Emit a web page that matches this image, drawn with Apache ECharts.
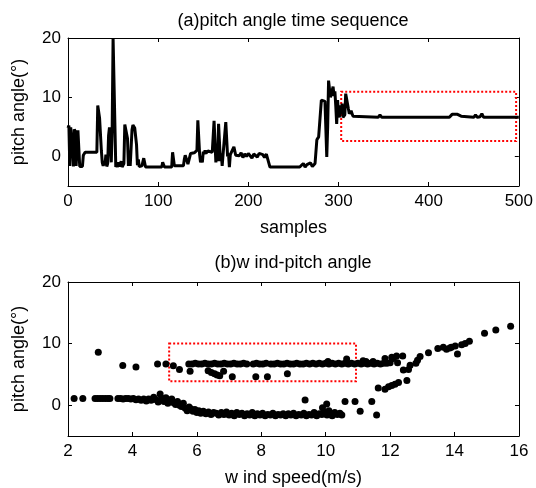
<!DOCTYPE html>
<html>
<head>
<meta charset="utf-8">
<script src="https://cdn.jsdelivr.net/npm/echarts@6/dist/echarts.min.js"></script>
<style>
html,body{margin:0;padding:0;background:#fff;}
#main{width:536px;height:488px;}
</style>
</head>
<body>
<div id="main"></div>
<script>
// (a) pitch angle per sample: [sample, pitch]
var pitchSeq = [
  [0,4.8],[1,5.2],[2,-1.6],[3,4.9],[4,5.1],[5,1.5],[6,-1.7],[7,4.6],[8,4.2],[9,-1.6],[10,-1.8],
  [11,4.4],[12,4.3],[13,-1.7],[14,-1.8],[15,-1.6],[16,-1.7],[17,0.2],[19,0.7],[32,0.7],[33,8.6],
  [34,8.4],[35,6.5],[36,6.4],[37,1.0],[38,-1.0],[39,-1.6],[40,-0.8],[41,-1.5],[42,0.3],[43,-1.7],
  [44,-1.2],[45,3.5],[46,4.9],[47,5.0],[48,-1.0],[49,4.8],[50,20],[51,20],[52,20],[53,-1.8],
  [54,-1.4],[55,-1.8],[56,-1.0],[57,-1.7],[58,-1.5],[59,-0.8],[60,-1.8],[61,-1.6],[62,-1.2],
  [63,5.4],[64,5.6],[65,5.5],[66,3.0],[67,-1.6],[68,1.0],[69,-1.6],[70,-1.4],[71,4.5],[72,5.3],
  [73,5.2],[74,4.8],[75,5.0],[76,2.0],[77,-1.5],[78,-0.5],[79,-1.7],[80,-1.5],[81,-1.8],[82,-1.6],
  [83,-1.7],[84,-0.3],[85,-0.3],[86,-1.8],[104,-1.8],[105,-1.0],[106,-1.0],[107,-1.8],[115,-1.8],
  [116,0.7],[117,0.7],[118,-1.6],[128,-1.6],[129,-0.5],[130,0.2],[131,0.0],[132,0.2],[133,-1.3],
  [135,-1.0],[136,0.5],[138,0.7],[140,0.6],[142,0.9],[143,1.0],[144,6.1],[145,6.0],[146,0.3],
  [147,-1.0],[148,-0.5],[149,-1.0],[150,0.8],[151,0.4],[152,1.0],[153,0.5],[155,0.9],[157,0.6],
  [160,0.7],[162,6.0],[163,6.0],[164,-1.0],[165,0.5],[166,-0.8],[167,5.5],[168,5.3],[169,-0.8],
  [170,0.5],[171,-1.6],[172,0.4],[175,5.8],[176,5.8],[177,0.0],[178,0.5],[179,-1.8],[180,0.3],
  [182,0.6],[184,1.6],[185,1.4],[186,0.2],[188,0.5],[190,0.1],[192,0.6],[194,-0.2],[196,0.4],
  [198,0.0],[200,0.5],[202,0.2],[204,-0.3],[206,0.4],[208,0.3],[210,-0.1],[212,0.5],[214,0.2],
  [216,0.3],[218,-0.2],[220,0.4],[222,0.3],[224,-1.8],[257,-1.8],[259,-1.5],[261,-1.2],[263,-1.8],
  [265,-1.4],[267,-1.6],[269,-1.1],[271,-1.7],[273,-1.5],[274,-1.2],[276,2.8],[278,3.3],[280,3.6],
  [281,9.5],[283,9.2],[285,9.3],[286,9.0],[287,-0.1],[288,5.0],[289,12.8],[290,12.5],[291,10.0],
  [292,10.5],[294,11.8],[295,10.2],[296,11.0],[297,8.5],[298,5.5],[299,9.5],[300,7.0],[301,6.6],
  [302,8.6],[303,7.2],[304,8.9],[305,6.6],[307,7.0],[308,10.6],[310,10.4],[311,8.0],[312,7.2],
  [313,6.9],[314,7.7],[316,6.8],[318,6.6],[344,6.6],[346,7.0],[348,6.6],[423,6.6],[426,7.1],
  [432,7.1],[436,6.8],[438,6.6],[450,6.6],[452,7.0],[454,6.6],[457,6.7],[459,7.2],[461,6.6],[500,6.6]
];

// (b) wind speed vs pitch: [wind speed, pitch]
var lowBand = [
  [2.19,1.1],[2.46,1.1],[2.84,1.1],[2.92,1.1],[3.0,1.1],[3.08,1.1],[3.16,1.1],[3.24,1.1],[3.30,1.1],
  [3.55,1.1],[3.63,1.1],[3.71,1.0],[3.79,1.1],[3.87,1.1],[3.95,1.0],[4.03,1.1],[4.11,0.9],[4.19,1.0],
  [4.27,0.8],[4.35,1.0],[4.43,0.7],[4.5,1.0],[4.58,0.8],[4.66,1.3],[4.74,0.9],[4.8,0.5],[4.86,1.8],
  [4.92,1.1],[4.98,0.6],[5.04,1.2],[5.1,0.3],[5.16,0.8],[5.22,1.0],[5.28,0.4],[5.34,0.1],[5.40,0.6],
  [5.46,0.0],[5.52,-0.2],[5.58,0.3],[5.64,-0.5],[5.70,-0.9],[5.76,-0.3],[5.82,-0.6],[5.88,-1.0],
  [5.94,-0.7],[6.0,-1.2],[6.06,-0.9],[6.12,-1.3],[6.2,-1.0],[6.28,-1.4],[6.36,-1.1],[6.44,-1.5],
  [6.52,-1.2],[6.6,-1.3],[6.68,-1.6],[6.76,-1.2],[6.84,-1.5],[6.92,-1.1],[7.0,-1.6],[7.08,-1.3],
  [7.16,-1.7],[7.24,-1.2],[7.32,-1.5],[7.4,-1.3],[7.48,-1.7],[7.56,-1.4],[7.64,-1.6],[7.72,-1.2],
  [7.8,-1.7],[7.88,-1.4],[7.96,-1.6],[8.04,-1.3],[8.12,-1.7],[8.2,-1.5],[8.28,-1.6],[8.36,-1.3],
  [8.44,-1.7],[8.52,-1.5],[8.6,-1.6],[8.68,-1.4],[8.76,-1.7],[8.84,-1.4],[8.92,-1.6],[9.0,-1.3],
  [9.08,-1.7],[9.16,-1.5],[9.24,-1.6],[9.32,-1.3],[9.4,-1.7],[9.48,-1.5],[9.56,-1.6],[9.64,-1.2],
  [9.72,-1.7],[9.8,-1.4],[9.88,-1.5],[9.96,-1.1],[10.04,-1.6],[10.12,-1.4],[10.2,-1.7],[10.28,-1.2],
  [10.36,-1.5],[10.44,-1.3],[10.5,-1.6],[9.36,0.86],[9.9,-0.4],[10.03,0.2],[10.1,-0.9],[10.6,0.6],
  [10.91,0.6],[11.07,-1.0],[11.43,0.6],[11.58,-1.6]
];
var highBand = [
  [2.94,8.6],[3.70,6.45],[4.11,6.2],[4.78,6.7],[5.04,6.7],[5.27,6.4],[5.46,5.8],[5.79,5.5],
  [5.75,6.7],[5.85,6.7],[5.95,6.8],[6.05,6.7],[6.15,6.7],[6.25,6.8],[6.35,6.7],[6.45,6.7],[6.55,6.8],
  [6.65,6.7],[6.75,6.7],[6.85,6.8],[6.95,6.7],[7.05,6.7],[7.15,6.8],[7.25,6.7],[7.35,6.7],[7.45,6.8],
  [7.55,6.7],[7.75,6.7],[7.85,6.8],[7.95,6.7],[8.05,6.7],[8.15,6.8],[8.3,6.7],[8.4,6.7],[8.5,6.8],
  [8.6,6.7],[8.7,6.7],[8.8,6.8],[8.9,6.7],[9.0,6.7],[9.1,6.8],[9.2,6.7],[9.3,6.7],[9.4,6.8],[9.5,6.7],
  [9.6,6.8],[9.7,6.7],[9.8,6.8],[9.9,6.7],[10.0,6.8],[10.1,6.7],[10.2,6.8],[10.3,6.7],[10.4,6.8],
  [10.5,6.7],[10.6,6.8],[10.7,6.7],[10.8,6.8],[10.9,6.7],[11.0,6.8],[11.1,6.7],[11.2,6.8],[11.3,6.7],
  [11.4,6.8],[11.5,6.7],[11.6,6.8],[11.7,6.7],[11.8,6.8],
  [6.35,5.6],[6.45,5.3],[6.55,5.1],[6.63,4.9],[6.71,4.8],[6.83,5.5],[7.1,4.6],[7.83,4.6],[8.19,4.6],
  [8.81,5.1],[10.07,7.1],[10.65,7.5],[11.16,7.2],[11.25,7.1],[11.47,7.1],[11.84,7.6],[12.05,7.8],
  [12.2,8.0],[12.39,8.0],[12.0,6.9],[12.23,6.9],[12.1,7.6],[11.9,6.8]
];
var risingBranch = [
  [11.63,2.8],[11.84,2.6],[11.95,3.0],[12.05,3.2],[12.15,3.4],[12.26,3.7],[12.52,4.0],[12.41,5.7],
  [12.57,5.8],[12.62,6.5],[12.8,6.8],[12.85,7.3],[12.93,7.9],[13.19,8.5],[13.48,9.2],[13.65,9.4],
  [13.75,9.1],[13.85,9.3],[13.9,9.4],[14.02,9.6],[14.09,8.3],[14.22,9.8],[14.33,10.0],[14.46,10.4],
  [14.93,11.7],[15.28,12.2],[15.74,12.8]
];

// dotted red boxes: [x1, y1, x2, y2]
var boxA = [303, 10.9, 497, 2.6];
var boxB = [5.14, 10.0, 10.94, 3.9];

var pitchTicks = [0, 10, 20];
var FONT = '"Liberation Sans", Arial, sans-serif';

function frameAxis(type, pos, idx, opts) {
    var a = {
        type: 'value',
        gridIndex: idx,
        position: pos,
        axisLine: {show: true, onZero: false, lineStyle: {color: '#000', width: 1}},
        axisTick: {show: true, inside: true, length: 4, lineStyle: {color: '#000'}},
        axisLabel: {show: false},
        splitLine: {show: false}
    };
    for (var k in opts) a[k] = opts[k];
    return a;
}

function redBox(b) {
    return {
        silent: true,
        itemStyle: {color: 'rgba(0,0,0,0)', borderColor: '#ff0000', borderWidth: 2, borderType: 'dotted'},
        data: [[{coord: [b[0], b[1]]}, {coord: [b[2], b[3]]}]]
    };
}

var labelStyle = {show: true, color: '#000', fontSize: 17, fontFamily: FONT, margin: 7};
var nameStyle = {color: '#000', fontSize: 18, fontFamily: FONT};

var yLeft = function (idx) {
    return frameAxis('y', 'left', idx, {
        min: -5, max: 20,
        axisTick: {show: true, inside: true, length: 4, lineStyle: {color: '#000'}, customValues: pitchTicks},
        axisLabel: {show: true, color: '#000', fontSize: 17, fontFamily: FONT, margin: 7, customValues: pitchTicks},
        name: 'pitch angle(°)', nameLocation: 'middle', nameGap: 40, nameRotate: 90, nameTextStyle: nameStyle
    });
};
var yRight = function (idx) {
    return frameAxis('y', 'right', idx, {
        min: -5, max: 20,
        axisTick: {show: true, inside: true, length: 4, lineStyle: {color: '#000'}, customValues: pitchTicks},
        axisLabel: {show: false, customValues: pitchTicks}
    });
};

var chart = echarts.init(document.getElementById('main'), null, {renderer: 'canvas'});
chart.setOption({
    animation: false,
    backgroundColor: '#fff',
    grid: [
        {left: 68, right: 17, top: 38, height: 148},
        {left: 68, right: 17, top: 282, height: 155}
    ],
    graphic: [
        {type: 'text', style: {x: 293, y: 21, text: '(a)pitch angle time sequence', align: 'center', verticalAlign: 'middle', font: '18px ' + FONT, fill: '#000'}},
        {type: 'text', style: {x: 293, y: 263, text: '(b)w ind-pitch angle', align: 'center', verticalAlign: 'middle', font: '18px ' + FONT, fill: '#000'}}
    ],
    xAxis: [
        frameAxis('x', 'bottom', 0, {min: 0, max: 500, interval: 100, axisLabel: labelStyle,
            name: 'samples', nameLocation: 'middle', nameGap: 33, nameTextStyle: nameStyle}),
        frameAxis('x', 'top', 0, {min: 0, max: 500, interval: 100}),
        frameAxis('x', 'bottom', 1, {min: 2, max: 16, interval: 2, axisLabel: labelStyle,
            name: 'w ind speed(m/s)', nameLocation: 'middle', nameGap: 33, nameTextStyle: nameStyle}),
        frameAxis('x', 'top', 1, {min: 2, max: 16, interval: 2})
    ],
    yAxis: [yLeft(0), yRight(0), yLeft(1), yRight(1)],
    series: [
        {
            type: 'line', xAxisIndex: 0, yAxisIndex: 0,
            data: pitchSeq, showSymbol: false, symbol: 'none',
            lineStyle: {color: '#000', width: 3}, clip: true
        },
        {
            type: 'line', xAxisIndex: 0, yAxisIndex: 0, data: [], z: 5,
            markArea: redBox(boxA)
        },
        {
            type: 'scatter', xAxisIndex: 2, yAxisIndex: 2,
            data: lowBand.concat(highBand, risingBranch),
            symbolSize: 7, itemStyle: {color: '#000', opacity: 1}
        },
        {
            type: 'line', xAxisIndex: 2, yAxisIndex: 2, data: [], z: 5,
            markArea: redBox(boxB)
        }
    ]
});
</script>
</body>
</html>
